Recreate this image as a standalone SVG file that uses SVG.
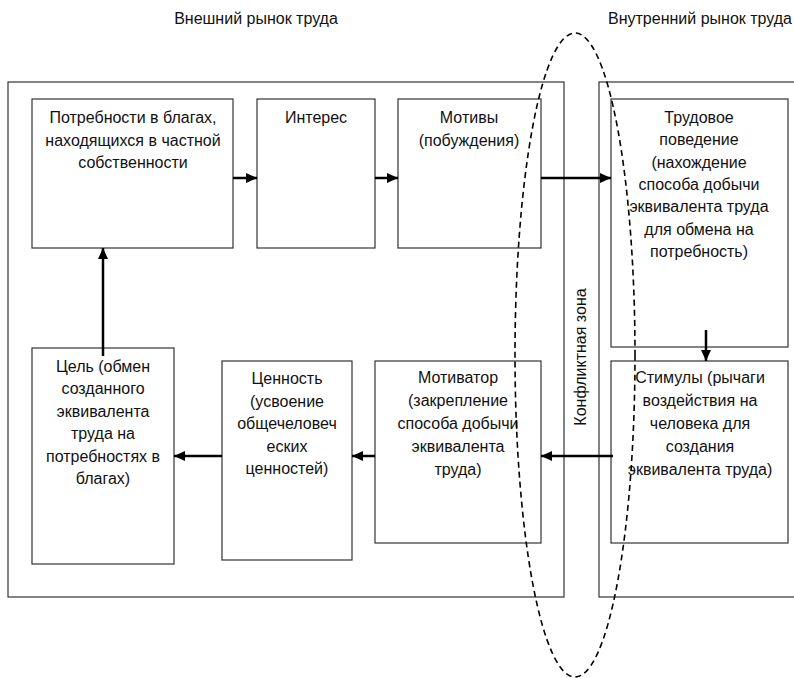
<svg xmlns="http://www.w3.org/2000/svg" width="794" height="678" viewBox="0 0 794 678">
<style>
.frame{fill:#fff;stroke:#333;stroke-width:1.2}
.box{fill:#fff;stroke:#333;stroke-width:1.2}
text{font-family:"Liberation Sans",Arial,sans-serif;font-size:16px;fill:#111;text-anchor:middle}
.conn{stroke:#000;stroke-width:2.5;fill:none;marker-end:url(#ah)}
.zone{fill:none;stroke:#000;stroke-width:1.6;stroke-dasharray:6 4}
</style>
<defs>
<marker id="ah" markerUnits="userSpaceOnUse" markerWidth="12" markerHeight="12" refX="11" refY="5" orient="auto">
<path d="M0,0 L11,5 L0,10 Z" fill="#000"/>
</marker>
</defs>
<rect width="794" height="678" fill="#fff"/>
<text x="256" y="24">Внешний рынок труда</text>
<text x="700" y="24">Внутренний рынок труда</text>
<rect class="frame" x="8" y="82" width="556" height="515"/>
<rect class="frame" x="599" y="82" width="300" height="515"/>
<g id="n1"><rect class="box" x="32" y="99" width="201" height="149"/>
<text x="133" y="123"><tspan x="133">Потребности в благах,</tspan><tspan x="133" dy="22.5">находящихся в частной</tspan><tspan x="133" dy="22.5">собственности</tspan></text></g>
<g id="n2"><rect class="box" x="257" y="99" width="118" height="149"/>
<text x="316" y="123">Интерес</text></g>
<g id="n3"><rect class="box" x="398" y="99" width="143" height="149"/>
<text x="469" y="123"><tspan x="469">Мотивы</tspan><tspan x="469" dy="22.5">(побуждения)</tspan></text></g>
<g id="n4"><rect class="box" x="611" y="99" width="177" height="248"/>
<text x="699" y="123"><tspan x="699">Трудовое</tspan><tspan x="699" dy="22.3">поведение</tspan><tspan x="699" dy="22.3">(нахождение</tspan><tspan x="699" dy="22.3">способа добычи</tspan><tspan x="699" dy="22.3">эквивалента труда</tspan><tspan x="699" dy="22.3">для обмена на</tspan><tspan x="699" dy="22.3">потребность)</tspan></text></g>
<g id="n5"><rect class="box" x="611" y="361" width="177" height="182"/>
<text x="700" y="383"><tspan x="700">Стимулы (рычаги</tspan><tspan x="700" dy="23">воздействия на</tspan><tspan x="700" dy="23">человека для</tspan><tspan x="700" dy="23">создания</tspan><tspan x="700" dy="23">эквивалента труда)</tspan></text></g>
<g id="n6"><rect class="box" x="375" y="361" width="166" height="182"/>
<text x="458" y="383"><tspan x="458">Мотиватор</tspan><tspan x="458" dy="23">(закрепление</tspan><tspan x="458" dy="23">способа добычи</tspan><tspan x="458" dy="23">эквивалента</tspan><tspan x="458" dy="23">труда)</tspan></text></g>
<g id="n7"><rect class="box" x="222" y="361" width="130" height="199"/>
<text x="287" y="384"><tspan x="287">Ценность</tspan><tspan x="287" dy="22.5">(усвоение</tspan><tspan x="287" dy="22.5">общечеловеч</tspan><tspan x="287" dy="22.5">еских</tspan><tspan x="287" dy="22.5">ценностей)</tspan></text></g>
<g id="n8"><rect class="box" x="32" y="348" width="142" height="216"/>
<text x="103" y="372"><tspan x="103">Цель (обмен</tspan><tspan x="103" dy="22.4">созданного</tspan><tspan x="103" dy="22.4">эквивалента</tspan><tspan x="103" dy="22.4">труда на</tspan><tspan x="103" dy="22.4">потребностях в</tspan><tspan x="103" dy="22.4">благах)</tspan></text></g>
<g id="connectors">
<line class="conn" x1="233" y1="178" x2="257" y2="178"/>
<line class="conn" x1="375" y1="178" x2="398" y2="178"/>
<line class="conn" x1="541" y1="178" x2="611" y2="178"/>
<line class="conn" x1="706" y1="330" x2="706" y2="361"/>
<line class="conn" x1="613" y1="456" x2="541" y2="456"/>
<line class="conn" x1="375" y1="456" x2="352" y2="456"/>
<line class="conn" x1="222" y1="456" x2="174" y2="456"/>
<line class="conn" x1="103" y1="356" x2="103" y2="248"/>
</g>
<g id="zone">
<ellipse class="zone" cx="575" cy="355" rx="60" ry="322"/>
<text transform="translate(586,357) rotate(-90)">Конфликтная зона</text>
</g>
</svg>
